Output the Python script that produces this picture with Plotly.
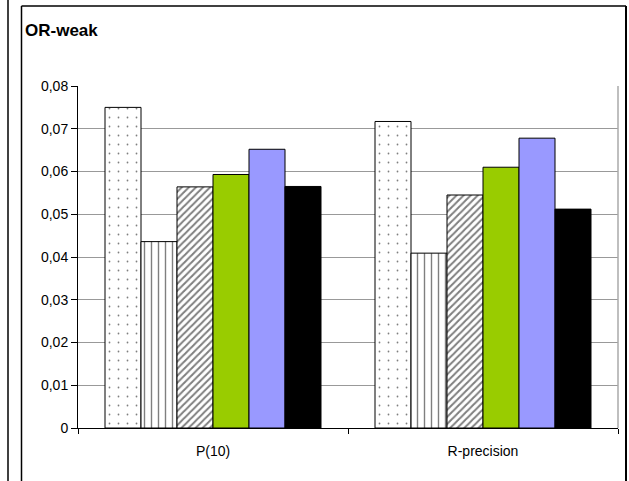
import plotly.graph_objects as go

categories = ["P(10)", "R-precision"]
series_names = ["Run 1", "Run 2", "Run 3", "Run 4", "Run 5", "Run 6"]
values = [
    [0.0750, 0.0717],
    [0.0436, 0.0409],
    [0.0564, 0.0545],
    [0.0593, 0.0610],
    [0.0652, 0.0678],
    [0.0565, 0.0512],
]
ytick_vals = [0, 0.01, 0.02, 0.03, 0.04, 0.05, 0.06, 0.07, 0.08]
ytick_text = ["0", "0,01", "0,02", "0,03", "0,04", "0,05", "0,06", "0,07", "0,08"]

styles = [
    dict(color="white", pattern=dict(shape=".", fgcolor="#000000", bgcolor="white", size=9, solidity=0.03)),
    dict(color="white", pattern=dict(shape="|", fgcolor="#000000", bgcolor="white", size=7, solidity=0.2)),
    dict(color="white", pattern=dict(shape="/", fgcolor="#000000", bgcolor="white", size=5, solidity=0.4)),
    dict(color="#99CC00"),
    dict(color="#9999FF"),
    dict(color="#000000"),
]

fig = go.Figure()
for name, vals, st in zip(series_names, values, styles):
    fig.add_trace(go.Bar(
        x=categories, y=vals, name=name,
        marker=dict(line=dict(color="black", width=1), **st),
    ))

W, H = 629, 481
L, R, T, B = 78, 11, 86, 53
pw, ph = W - L - R, H - T - B

def px_x(p):
    return (p - L) / pw

def px_y(p):
    return (H - B - p) / ph

font = "Liberation Sans, Arial, sans-serif"
fig.update_layout(
    width=W, height=H,
    margin=dict(l=L, r=R, t=T, b=B),
    paper_bgcolor="white", plot_bgcolor="white",
    showlegend=False,
    bargap=0.2, bargroupgap=0,
    font=dict(family=font, size=14, color="black"),
    title=dict(text="<b>OR-weak</b>", x=25 / W, xanchor="left", xref="container",
               y=1 - 30 / H, yanchor="middle", yref="container",
               font=dict(family=font, size=17, color="black")),
    xaxis=dict(
        showline=True, linecolor="black", linewidth=1,
        ticks="outside", tickson="boundaries", ticklen=5, tickcolor="black",
        showgrid=False, ticklabelstandoff=10,
        tickfont=dict(size=14),
    ),
    yaxis=dict(
        range=[0, 0.08], tickvals=ytick_vals, ticktext=ytick_text,
        showline=True, linecolor="black", linewidth=1,
        ticks="outside", ticklen=6, tickcolor="black",
        showgrid=True, gridcolor="#999999", gridwidth=1,
        zeroline=False, tickfont=dict(size=14),
    ),
    shapes=[
        dict(type="line", xref="paper", yref="paper", x0=1, x1=1, y0=0, y1=1,
             line=dict(color="#aaaaaa", width=1.5)),
        dict(type="line", xref="paper", yref="paper", x0=px_x(21.5), x1=px_x(626),
             y0=px_y(6), y1=px_y(6), line=dict(color="black", width=1.5)),
        dict(type="line", xref="paper", yref="paper", x0=px_x(21.5), x1=px_x(21.5),
             y0=px_y(6), y1=px_y(490), line=dict(color="black", width=1.5)),
        dict(type="line", xref="paper", yref="paper", x0=px_x(626), x1=px_x(626),
             y0=px_y(6), y1=px_y(490), line=dict(color="black", width=2)),
        dict(type="line", xref="paper", yref="paper", x0=px_x(8), x1=px_x(8),
             y0=px_y(-10), y1=px_y(490), line=dict(color="black", width=1.5)),
    ],
)

fig.write_html("out.html", config={"displayModeBar": False},
               post_script="document.body.style.margin='0';document.body.style.overflow='hidden';")
